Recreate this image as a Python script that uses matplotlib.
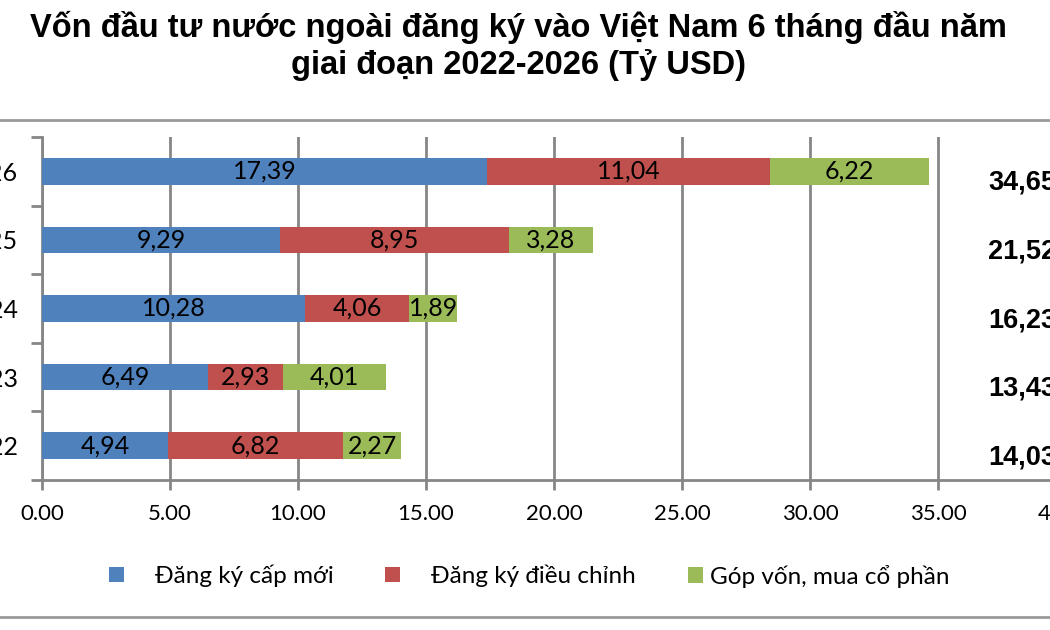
import numpy as np
import matplotlib.pyplot as plt
from matplotlib.lines import Line2D

years = ["2022", "2023", "2024", "2025", "2026"]
new_reg = [4.94, 6.49, 10.28, 9.29, 17.39]
adjusted = [6.82, 2.93, 4.06, 8.95, 11.04]
capital = [2.27, 4.01, 1.89, 3.28, 6.22]
series_names = ["Đăng ký cấp mới", "Đăng ký điều chỉnh", "Góp vốn, mua cổ phần"]
colors = ["#4F81BD", "#C0504D", "#9BBB59"]

title = "Vốn đầu tư nước ngoài đăng ký vào Việt Nam 6 tháng đầu năm\ngiai đoạn 2022-2026 (Tỷ USD)"

plt.rcParams['font.family'] = ['Lato', 'DejaVu Sans']

fig = plt.figure(figsize=(10.5, 6.3), dpi=100)
ax = fig.add_axes([42/1050, 1 - 480/630, 1024/1050, 343/630])

y = np.arange(len(years))
left = np.zeros(len(years))
handles = []
for vals, name, c in zip([new_reg, adjusted, capital], series_names, colors):
    bars = ax.barh(y, vals, left=left, height=0.39, color=c, label=name, zorder=3)
    ax.bar_label(bars, labels=[f"{v:.2f}".replace(".", ",") for v in vals],
                 label_type="center", fontsize=18, color="black", zorder=4)
    handles.append(bars)
    left += np.array(vals)

# totals to the right
for i, t in enumerate(left):
    ax.text(36.95, i - 0.17, f"{t:.2f}".replace(".", ","), ha="left", va="center",
            fontsize=19.5, fontweight="bold", family="Liberation Sans")

ax.set_xlim(0, 40)
ax.set_ylim(-0.5, len(years) - 0.5)
ax.set_xticks(np.arange(0, 45, 5))
ax.set_xticklabels([f"{v:.2f}" for v in np.arange(0, 45, 5)], fontsize=16)
ax.set_yticks(y)
ax.set_yticklabels(years, fontsize=18)
ax.set_yticks(np.arange(-0.5, len(years)), minor=True)
ax.tick_params(axis="y", which="major", length=0, pad=17)
ax.tick_params(axis="y", which="minor", length=8, width=2, color="#868686", direction="out")
ax.tick_params(axis="x", length=7, width=2, color="#868686", pad=10)
ax.grid(axis="x", color="#868686", linewidth=2, zorder=0)
for s in ["top", "right"]:
    ax.spines[s].set_visible(False)
for s in ["left", "bottom"]:
    ax.spines[s].set_color("#868686")
    ax.spines[s].set_linewidth(2)

fig.text(0.494, 1 - 46/630, title, ha="center", va="center", fontsize=23.5, fontweight="bold",
         family="Liberation Sans", linespacing=1.2)

# legend entries placed one by one, like the original (uneven spacing)
for h, name, x0, pad in zip(handles, series_names, [109, 385, 688], [1.3, 1.3, 0.3]):
    leg = fig.legend([h], [name], loc="center left", bbox_to_anchor=(x0/1050, 1 - 576/630),
                     frameon=False, fontsize=17.5, handlelength=0.6, handleheight=0.6,
                     handletextpad=pad, borderpad=0, borderaxespad=0)

fig.add_artist(Line2D([0, 1], [1 - 120/630, 1 - 120/630], color="#999999", linewidth=2))
fig.add_artist(Line2D([0, 1], [1 - 617/630, 1 - 617/630], color="#999999", linewidth=2))

fig.savefig("out.png", dpi=100)
